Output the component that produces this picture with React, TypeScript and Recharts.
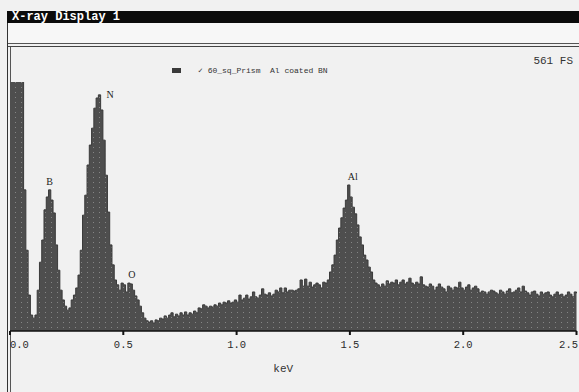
import { AreaChart, Area, XAxis, YAxis, ReferenceDot } from "recharts";

// EDS spectrum, 10 eV channels starting at 0.00 keV
const channelWidthKeV = 0.01;
const counts = [
  620, 620, 620, 620, 620, 580, 318, 182, 81, 36, // 0.00
  29, 36, 92, 155, 205, 273, 302, 318, 295, 266, // 0.10
  194, 137, 92, 70, 56, 47, 52, 70, 81, 97, // 0.20
  126, 182, 261, 306, 374, 419, 457, 502, 525, 532, // 0.30
  498, 430, 351, 268, 194, 149, 115, 104, 92, 108, // 0.40
  104, 88, 108, 106, 92, 79, 70, 56, 41, 29, // 0.50
  23, 20, 23, 18, 25, 23, 29, 27, 34, 29, // 0.60
  36, 41, 32, 38, 34, 41, 36, 43, 36, 41, // 0.70
  38, 45, 41, 52, 50, 59, 56, 52, 56, 54, // 0.80
  59, 56, 63, 59, 65, 63, 68, 63, 65, 70, // 0.90
  65, 81, 70, 74, 81, 72, 77, 88, 77, 74, // 1.00
  81, 95, 83, 81, 86, 79, 83, 92, 88, 97, // 1.10
  86, 97, 88, 92, 92, 90, 92, 95, 115, 101, // 1.20
  117, 101, 110, 99, 104, 108, 104, 97, 110, 108, // 1.30
  115, 133, 149, 171, 205, 232, 255, 277, 295, 329, // 1.40
  302, 279, 264, 239, 212, 194, 171, 160, 144, 133, // 1.50
  115, 108, 104, 99, 106, 101, 113, 106, 110, 108, // 1.60
  115, 104, 110, 115, 106, 110, 119, 108, 104, 110, // 1.70
  106, 122, 104, 101, 99, 106, 101, 92, 99, 106, // 1.80
  99, 95, 88, 101, 97, 92, 99, 97, 110, 97, // 1.90
  92, 99, 104, 92, 97, 101, 95, 86, 90, 88, // 2.00
  83, 88, 92, 90, 86, 83, 92, 88, 83, 90, // 2.10
  95, 86, 88, 92, 97, 88, 101, 90, 86, 81, // 2.20
  88, 90, 83, 79, 88, 83, 86, 88, 81, 77, // 2.30
  83, 88, 81, 83, 77, 81, 88, 83, 77, 88, // 2.40
  85, // 2.50
];

const keVTicks = [0, 0.5, 1.0, 1.5, 2.0, 2.5];
const peakNames = ["B", "N", "O", "Al"];
const peakKeV = [0.17, 0.39, 0.52, 1.49];
const fullScale = 561;
const sampleName = "60_sq_Prism  Al coated BN";

const data = counts.map((c, i) => ({ kev: Number((i * channelWidthKeV).toFixed(2)), counts: c }));

const mono = "'Liberation Mono', 'DejaVu Sans Mono', monospace";

const labelPlacement: Record<string, { position: "top" | "right"; dx: number }> = {
  B: { position: "top", dx: 0 },
  N: { position: "right", dx: 2 },
  O: { position: "top", dx: 3 },
  Al: { position: "top", dx: 4 },
};

function KevTick(props: any) {
  const { x, y, payload, index } = props;
  const last = index === keVTicks.length - 1;
  const anchor = index === 0 ? "start" : last ? "end" : "middle";
  return (
    <text
      x={last ? x + 1.5 : x}
      y={y}
      dy={11}
      textAnchor={anchor}
      fontFamily={mono}
      fontSize={10.5}
      fill="#2a2a2a"
    >
      {Number(payload.value).toFixed(1)}
    </text>
  );
}

export default function App() {
  return (
    <div
      style={{
        position: "absolute",
        left: 0,
        top: 0,
        width: 579,
        height: 392,
        overflow: "hidden",
        background: "#f1f1f1",
      }}
    >
      {/* window title */}
      <div
        style={{
          position: "absolute",
          left: 7,
          top: 11,
          width: 572,
          height: 12,
          background: "#0b0b0b",
          color: "#fff",
          fontFamily: mono,
          fontWeight: "bold",
          fontSize: 12,
          lineHeight: "12px",
          paddingLeft: 5,
          boxSizing: "border-box",
        }}
      >
        X-ray Display 1
      </div>
      {/* toolbar strip */}
      <div
        style={{
          position: "absolute",
          left: 8,
          top: 23,
          width: 571,
          height: 20,
          background: "#f7f7f7",
          borderBottom: "1px solid #555",
        }}
      />
      <div style={{ position: "absolute", left: 8, top: 46, width: 571, height: 1, background: "#444" }} />
      {/* left frame */}
      <div style={{ position: "absolute", left: 7, top: 23, width: 1, height: 369, background: "#333" }} />
      <div style={{ position: "absolute", left: 10, top: 47, width: 1, height: 345, background: "#555" }} />

      <div style={{ position: "absolute", right: 6, top: 55, fontFamily: mono, fontSize: 11, color: "#333" }}>
        {fullScale} FS
      </div>
      <div
        style={{
          position: "absolute",
          left: 172,
          top: 66,
          display: "flex",
          alignItems: "center",
          fontFamily: mono,
          fontSize: 8,
          color: "#333",
          whiteSpace: "pre",
        }}
      >
        <span style={{ display: "inline-block", width: 9, height: 5, background: "#3a3a3a", marginRight: 17 }} />
        <span>✓ {sampleName}</span>
      </div>

      <div style={{ position: "absolute", left: 0, top: 0 }}>
        <AreaChart width={579} height={392} data={data} margin={{ top: 82, right: 2.5, bottom: 16, left: 10 }}>
          <defs>
            <pattern id="edsFill" width={6} height={5} patternUnits="userSpaceOnUse">
              <rect width={6} height={5} fill="#4e4e4e" />
              <rect x={3} y={2} width={1} height={1} fill="#858585" />
            </pattern>
          </defs>
          <XAxis
            dataKey="kev"
            type="number"
            domain={[0, 2.5]}
            ticks={keVTicks}
            height={45}
            tickSize={4}
            tickLine={{ stroke: "#111", strokeWidth: 2 }}
            axisLine={{ stroke: "#111", strokeWidth: 1.5 }}
            tick={<KevTick />}
            interval={0}
            label={{
              value: "keV",
              position: "insideBottom",
              offset: 4,
              dx: -10,
              fontFamily: mono,
              fontSize: 11,
              fill: "#333",
            }}
          />
          <YAxis hide domain={[0, fullScale]} allowDataOverflow />
          <Area
            type="stepAfter"
            dataKey="counts"
            stroke="#3a3a3a"
            strokeWidth={1}
            fill="url(#edsFill)"
            fillOpacity={1}
            dot={false}
            activeDot={false}
            isAnimationActive={false}
          />
          {peakNames.map((name, i) => {
            const kev = peakKeV[i];
            const y = counts[Math.round(kev / channelWidthKeV)];
            const p = labelPlacement[name];
            return (
              <ReferenceDot
                key={name}
                x={kev + channelWidthKeV / 2}
                y={y}
                r={0}
                stroke="none"
                fill="none"
                ifOverflow="visible"
                label={{
                  value: name,
                  position: p.position,
                  offset: 5,
                  dx: p.dx,
                  fontFamily: "'Liberation Serif', serif",
                  fontSize: 10,
                  fill: "#222",
                }}
              />
            );
          })}
        </AreaChart>
      </div>
    </div>
  );
}
